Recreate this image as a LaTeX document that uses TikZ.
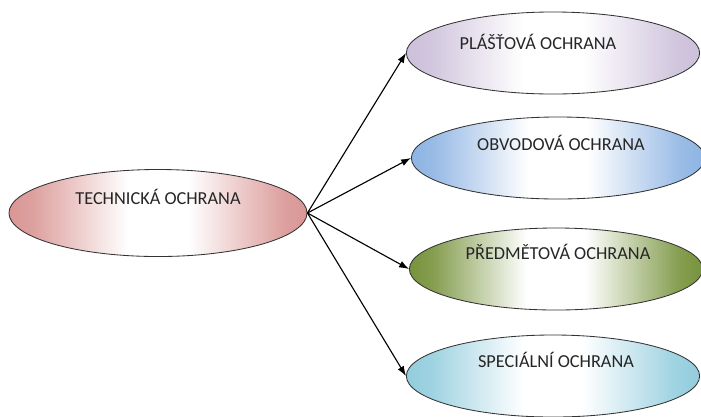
\documentclass[tikz,border=0pt]{standalone}
\usepackage{fontspec}
\setmainfont{Carlito}
\usetikzlibrary{arrows.meta,shapes.geometric}
\definecolor{redfill}{RGB}{217,150,148}
\definecolor{purplefill}{RGB}{204,192,218}
\definecolor{bluefill}{RGB}{142,180,227}
\definecolor{greenfill}{RGB}{119,147,60}
\definecolor{cyanfill}{RGB}{147,205,221}
\colorlet{ovalcolor}{white}
\pgfdeclarehorizontalshading[ovalcolor]{ovalshade}{100bp}{color(0bp)=(ovalcolor); color(25bp)=(ovalcolor); color(29bp)=(ovalcolor!90!white); color(45bp)=(white); color(55bp)=(white); color(71bp)=(ovalcolor!90!white); color(75bp)=(ovalcolor); color(100bp)=(ovalcolor)}
\begin{document}
\begin{tikzpicture}[x=0.025cm,y=-0.025cm]
        \tikzset{oval/.style = {shape=ellipse,draw=black!80,line width=0.6pt,minimum width=7.33cm,minimum height=2.05cm,/utils/exec={\colorlet{ovalcolor}{#1}},shade,shading=ovalshade}}
        \tikzset{caption/.style = {font=\fontsize{13}{15}\selectfont,text=black!85}}
        \tikzset{edge/.style = {-{Latex[length=7pt,width=5pt]},line width=0.8pt}}
        \useasboundingbox (0,0) rectangle (701,416);
        % left oval
        \node[oval=redfill,minimum width=7.45cm,minimum height=2.175cm] (tech) at (158,213) {};
        \node[caption] (techtext) at (158,197) {TECHNICKÁ OCHRANA};
        % ovals on the right
        \node[oval=purplefill] (plast) at (553,53) {};
        \node[oval=bluefill] (obvod) at (558,158) {};
        \node[oval=greenfill] (predmet) at (556,269) {};
        \node[oval=cyanfill] (special) at (553,376) {};
        \node[caption] (plasttext) at (538,42) {PLÁŠŤOVÁ OCHRANA};
        \node[caption] (obvodtext) at (561,143) {OBVODOVÁ OCHRANA};
        \node[caption] (predmettext) at (558,252) {PŘEDMĚTOVÁ OCHRANA};
        \node[caption] (specialtext) at (556,360) {SPECIÁLNÍ OCHRANA};
        % arrows
        \draw[edge] (tech.east) to (plast.west);
        \draw[edge] (tech.east) to (obvod.west);
        \draw[edge] (tech.east) to (predmet.west);
        \draw[edge] (tech.east) to (special.west);
\end{tikzpicture}
\end{document}
